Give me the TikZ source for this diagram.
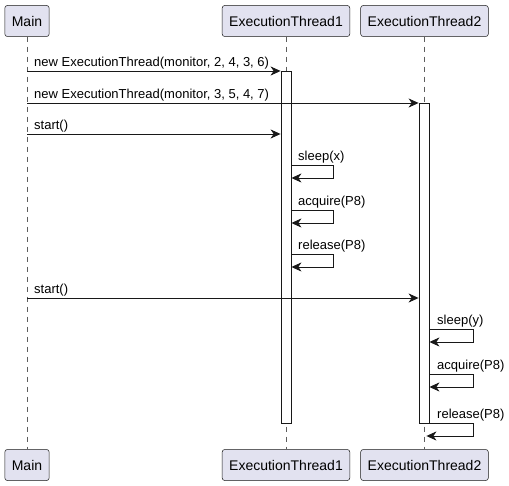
\documentclass[tikz,border=0pt]{standalone}
\usepackage{fontspec}
\setmainfont{Liberation Sans}
\usetikzlibrary{arrows.meta}
\definecolor{partfill}{HTML}{E2E2F0}
\definecolor{umlline}{HTML}{181818}
\begin{document}
\begin{tikzpicture}[x=1pt,y=-1pt,
    part/.style={draw=umlline,fill=partfill,rounded corners=2.5pt,line width=0.5pt,
      minimum height=31pt,inner xsep=7pt,font=\fontsize{14}{16}\selectfont},
    life/.style={draw=umlline!70,line width=0.5pt,dash pattern=on 5pt off 5pt},
    act/.style={draw=umlline,fill=white,line width=0.8pt,minimum width=10pt,inner sep=0pt},
    lbl/.style={anchor=south west,inner xsep=0pt,inner ysep=1pt,text depth=3pt,
      font=\fontsize{13}{15}\selectfont},
    msg/.style={draw=umlline,line width=0.9pt,-{Stealth[length=10pt,width=9pt,inset=3pt]}}]
  \useasboundingbox (0,0) rectangle (509,486);
  \node[part] (mainT) at (27,21) {Main};
  \node[part] (et1T) at (286,21) {ExecutionThread1};
  \node[part] (et2T) at (424.5,21) {ExecutionThread2};
  \node[part] (mainB) at (27,465) {Main};
  \node[part] (et1B) at (286,465) {ExecutionThread1};
  \node[part] (et2B) at (424.5,465) {ExecutionThread2};
  \draw[life] (mainT) -- (mainB);
  \draw[life] (et1T.south -| 286,0) -- (et1B.north -| 286,0);
  \draw[life] (et2T.south -| 424,0) -- (et2B.north -| 424,0);
  \node[act,minimum height=352pt] (act1) at (286,247) {};
  \node[act,minimum height=320pt] (act2) at (424,263) {};
  \node[lbl] (m1) at (34,71) {new ExecutionThread(monitor, 2, 4, 3, 6)};
  \node[lbl] (m2) at (34,103) {new ExecutionThread(monitor, 3, 5, 4, 7)};
  \node[lbl] (m3) at (34,134) {start()};
  \node[lbl] (s1) at (298,165) {sleep(x)};
  \node[lbl] (s2) at (298,210) {acquire(P8)};
  \node[lbl] (s3) at (298,254) {release(P8)};
  \node[lbl] (m4) at (34,298) {start()};
  \node[lbl] (s4) at (437,329) {sleep(y)};
  \node[lbl] (s5) at (437,374) {acquire(P8)};
  \node[lbl] (s6) at (437,423) {release(P8)};
  \draw[msg] (mainT |- m1.south) -- (act1.west |- m1.south);
  \draw[msg] (mainT |- m2.south) -- (act2.west |- m2.south);
  \draw[msg] (mainT |- m3.south) -- (act1.west |- m3.south);
  \draw[msg] (act1.east |- s1.south) -- ++(42,0) -- ++(0,13) -- ++(-42,0);
  \draw[msg] (act1.east |- s2.south) -- ++(42,0) -- ++(0,13) -- ++(-42,0);
  \draw[msg] (act1.east |- s3.south) -- ++(42,0) -- ++(0,13) -- ++(-42,0);
  \draw[msg] (mainT |- m4.south) -- (act2.west |- m4.south);
  \draw[msg] (act2.east |- s4.south) -- ++(44,0) -- ++(0,13) -- ++(-44,0);
  \draw[msg] (act2.east |- s5.south) -- ++(44,0) -- ++(0,13) -- ++(-44,0);
  \draw[msg] (act2.east |- s6.south) -- ++(44,0) -- ++(0,13) -- ++(-47,0);
\end{tikzpicture}
\end{document}
